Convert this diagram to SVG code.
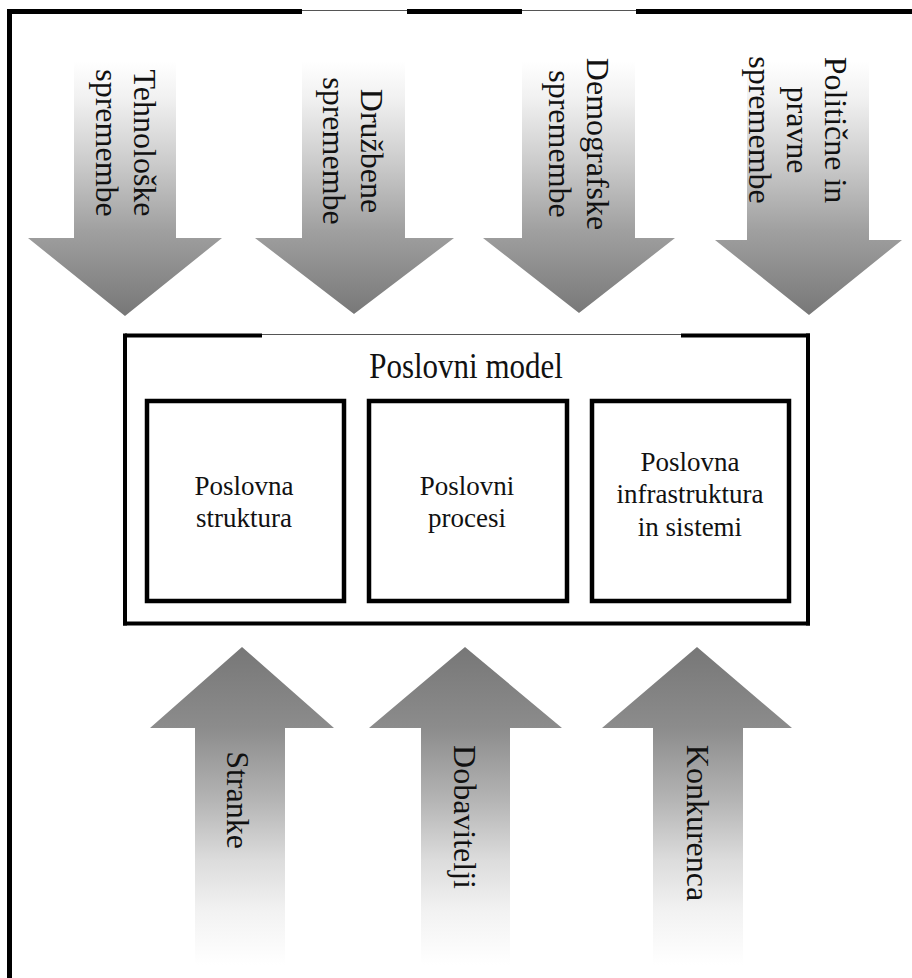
<svg xmlns="http://www.w3.org/2000/svg" width="912" height="978" viewBox="0 0 912 978">
<style>
.lbl{font-family:"Liberation Serif","Times New Roman",serif;fill:#111;}
.rot{font-size:32px;text-anchor:middle;}
.box{fill:#fff;stroke:#000;stroke-width:4.5;}
.btxt{font-size:27px;text-anchor:middle;}
.frame{stroke:#000;stroke-width:5;fill:none;}
.thin{stroke:#555;stroke-width:1.2;fill:none;}
.ob{stroke:#000;stroke-width:4;fill:none;}
</style>
<defs>
<linearGradient id="gDown" gradientUnits="userSpaceOnUse" x1="0" y1="20" x2="0" y2="316">
<stop offset="0" stop-color="#ffffff"/>
<stop offset="0.14" stop-color="#ffffff"/>
<stop offset="0.27" stop-color="#f0f0f0"/>
<stop offset="0.5" stop-color="#c8c8c8"/>
<stop offset="0.71" stop-color="#a0a0a0"/>
<stop offset="1" stop-color="#777777"/>
</linearGradient>
<linearGradient id="gUp" gradientUnits="userSpaceOnUse" x1="0" y1="647" x2="0" y2="965">
<stop offset="0" stop-color="#777777"/>
<stop offset="0.255" stop-color="#8c8c8c"/>
<stop offset="0.48" stop-color="#b4b4b4"/>
<stop offset="0.67" stop-color="#dcdcdc"/>
<stop offset="0.83" stop-color="#f2f2f2"/>
<stop offset="1" stop-color="#ffffff"/>
</linearGradient>
</defs>
<rect x="0" y="0" width="912" height="978" fill="#fff"/>
<g id="frame">
<line class="frame" x1="9.5" y1="9.5" x2="9.5" y2="978"/>
<line class="frame" x1="7" y1="11.5" x2="302" y2="11.5"/>
<line class="thin" x1="302" y1="10.5" x2="407" y2="10.5"/>
<line class="frame" x1="407" y1="11.5" x2="522" y2="11.5"/>
<line class="thin" x1="522" y1="10.5" x2="636" y2="10.5"/>
<line class="frame" x1="636" y1="11.5" x2="912" y2="11.5"/>
</g>
<g id="forces">
<g id="arrow-tehnoloske">
<path d="M74,25 H176 V238 H222 L125,316 L28,238 H74 Z" fill="url(#gDown)"/>
<text class="lbl rot" transform="translate(134,143) rotate(90)"><tspan x="0" y="0">Tehnološke</tspan><tspan x="0" y="38">spremembe</tspan></text>
</g>
<g id="arrow-druzbene">
<path d="M302,14 H405 V238 H454 L354,314 L255,238 H302 Z" fill="url(#gDown)"/>
<text class="lbl rot" transform="translate(361,151) rotate(90)"><tspan x="0" y="0">Družbene</tspan><tspan x="0" y="38">spremembe</tspan></text>
</g>
<g id="arrow-demografske">
<path d="M522,14 H635 V238 H675 L579,313 L483,238 H522 Z" fill="url(#gDown)"/>
<text class="lbl rot" transform="translate(587,144) rotate(90)"><tspan x="0" y="0">Demografske</tspan><tspan x="0" y="38">spremembe</tspan></text>
</g>
<g id="arrow-politicne">
<path d="M747,25 H869 V240 H902 L809,315 L715,240 H747 Z" fill="url(#gDown)"/>
<text class="lbl rot" transform="translate(825,130) rotate(90)"><tspan x="0" y="0">Politične in</tspan><tspan x="0" y="38">pravne</tspan><tspan x="0" y="76">spremembe</tspan></text>
</g>
<g id="arrow-stranke">
<path d="M242,647 L334,728 H285 V965 H195 V728 H150 Z" fill="url(#gUp)"/>
<text class="lbl rot" transform="translate(227,800) rotate(90)">Stranke</text>
</g>
<g id="arrow-dobavitelji">
<path d="M465,647 L562,728 H510 V965 H421 V728 H369 Z" fill="url(#gUp)"/>
<text class="lbl rot" transform="translate(454,817) rotate(90)">Dobavitelji</text>
</g>
<g id="arrow-konkurenca">
<path d="M697,647 L792,728 H743 V965 H653 V728 H602 Z" fill="url(#gUp)"/>
<text class="lbl rot" transform="translate(687,823) rotate(90)">Konkurenca</text>
</g>
</g>
<g id="poslovni-model">
<line class="ob" x1="125" y1="335.5" x2="262" y2="335.5"/>
<line class="thin" x1="262" y1="334.5" x2="681" y2="334.5"/>
<line class="ob" x1="681" y1="335.5" x2="810" y2="335.5"/>
<line class="ob" x1="125" y1="333.5" x2="125" y2="625.5"/>
<line class="ob" x1="808" y1="333.5" x2="808" y2="625.5"/>
<line class="ob" x1="123" y1="623.5" x2="810" y2="623.5"/>
<text class="lbl" font-size="31" text-anchor="middle" transform="translate(466,378) scale(1,1.15)">Poslovni model</text>
</g>
<g id="poslovna-struktura">
<rect class="box" x="147" y="401" width="197" height="200"/>
<text class="lbl btxt"><tspan x="244" y="495">Poslovna</tspan><tspan x="244" y="527">struktura</tspan></text>
</g>
<g id="poslovni-procesi">
<rect class="box" x="369" y="401" width="198" height="200"/>
<text class="lbl btxt"><tspan x="467" y="495">Poslovni</tspan><tspan x="467" y="527">procesi</tspan></text>
</g>
<g id="poslovna-infrastruktura">
<rect class="box" x="592" y="401" width="197" height="200"/>
<text class="lbl btxt"><tspan x="690" y="471">Poslovna</tspan><tspan x="690" y="503">infrastruktura</tspan><tspan x="690" y="536">in sistemi</tspan></text>
</g>
</svg>
